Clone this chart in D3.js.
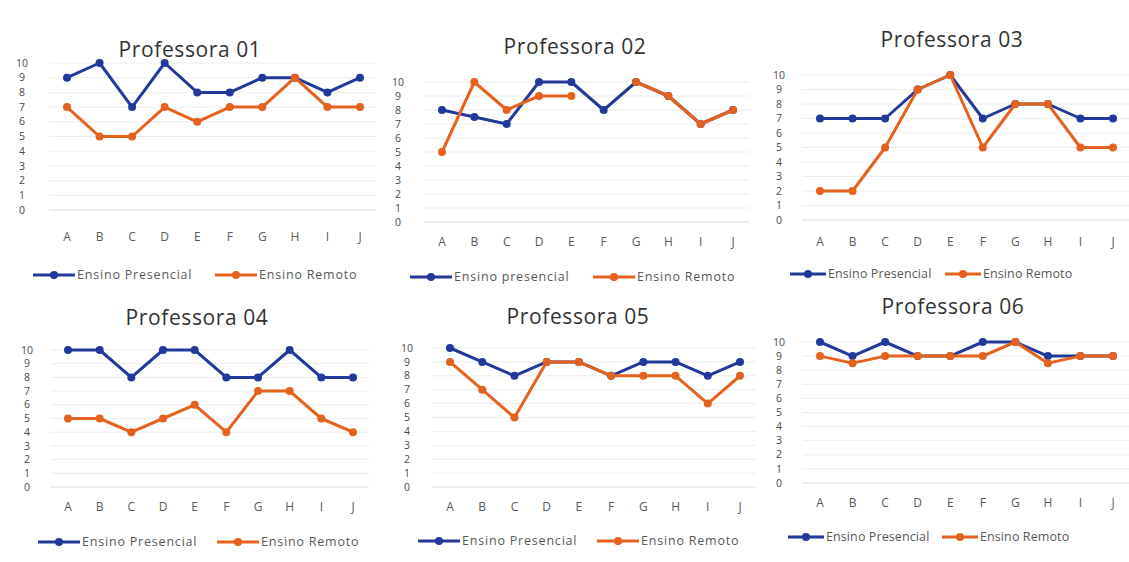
<!DOCTYPE html>
<html>
<head>
<meta charset="utf-8">
<script src="https://cdn.jsdelivr.net/npm/d3@7"></script>
<style>
  html, body { margin: 0; padding: 0; background: #ffffff; }
  svg { display: block; }
</style>
</head>
<body>
<svg id="chart" width="1129" height="562"></svg>
<script>
// ---- data ----
const categories = ["A", "B", "C", "D", "E", "F", "G", "H", "I", "J"];
const yTickLabels = [0, 1, 2, 3, 4, 5, 6, 7, 8, 9, 10];
const titles = ["Professora 01", "Professora 02", "Professora 03", "Professora 04", "Professora 05", "Professora 06"];
const presencialNames = ["Ensino Presencial", "Ensino presencial", "Ensino Presencial", "Ensino Presencial", "Ensino Presencial", "Ensino Presencial"];
const remotoName = "Ensino Remoto";

const presencial01 = [9, 10, 7, 10, 8, 8, 9, 9, 8, 9];
const remoto01     = [7, 5, 5, 7, 6, 7, 7, 9, 7, 7];
const presencial02 = [8, 7.5, 7, 10, 10, 8, 10, 9, 7, 8];
const remoto02     = [5, 10, 8, 9, 9, null, 10, 9, 7, 8];
const presencial03 = [7, 7, 7, 9, 10, 7, 8, 8, 7, 7];
const remoto03     = [2, 2, 5, 9, 10, 5, 8, 8, 5, 5];
const presencial04 = [10, 10, 8, 10, 10, 8, 8, 10, 8, 8];
const remoto04     = [5, 5, 4, 5, 6, 4, 7, 7, 5, 4];
const presencial05 = [10, 9, 8, 9, 9, 8, 9, 9, 8, 9];
const remoto05     = [9, 7, 5, 9, 9, 8, 8, 8, 6, 8];
const presencial06 = [10, 9, 10, 9, 9, 10, 10, 9, 9, 9];
const remoto06     = [9, 8.5, 9, 9, 9, 9, 10, 8.5, 9, 9];

const presencialSeries = [presencial01, presencial02, presencial03, presencial04, presencial05, presencial06];
const remotoSeries = [remoto01, remoto02, remoto03, remoto04, remoto05, remoto06];

// ---- layout of the six small charts ----
const layouts = [
  { titleX: 190, titleY: 57, y0: 210, y10: 63, xA: 67, xJ: 360, labelX: 22, catY: 241, legendX: 33, legendY: 275, legendGap: 182, legendLine: 42, legendSpacing: 0.8 },
  { titleX: 575, titleY: 54, y0: 222, y10: 82, xA: 442, xJ: 733, labelX: 398, catY: 246, legendX: 410, legendY: 277, legendGap: 183, legendLine: 42, legendSpacing: 0.8 },
  { titleX: 952, titleY: 47, y0: 220, y10: 75, xA: 820, xJ: 1113, labelX: 779, catY: 246, legendX: 790, legendY: 274, legendGap: 155, legendLine: 36, legendSpacing: 0.1 },
  { titleX: 197, titleY: 325, y0: 487, y10: 350, xA: 68, xJ: 353, labelX: 27, catY: 511, legendX: 38, legendY: 542, legendGap: 179, legendLine: 42, legendSpacing: 0.8 },
  { titleX: 578, titleY: 324, y0: 487, y10: 348, xA: 450, xJ: 740, labelX: 407, catY: 511, legendX: 418, legendY: 541, legendGap: 179, legendLine: 42, legendSpacing: 0.8 },
  { titleX: 953, titleY: 314, y0: 483, y10: 342, xA: 820, xJ: 1113, labelX: 779, catY: 507, legendX: 788, legendY: 537, legendGap: 154, legendLine: 36, legendSpacing: 0.1 }
];

const blue = "#22399a";
const orange = "#e4621d";
const textGrey = "#595959";
const font = "'Open Sans', 'Noto Sans', sans-serif";

const svg = d3.select("#chart");

layouts.forEach((L, i) => {
  const g = svg.append("g");
  const x = d3.scalePoint().domain(categories).range([L.xA, L.xJ]);
  const y = d3.scaleLinear().domain([0, 10]).range([L.y0, L.y10]);
  const step = x.step();
  const gx0 = L.xA - step * 0.55, gx1 = L.xJ + step * 0.5;

  // horizontal gridlines
  g.selectAll("line.grid").data(yTickLabels).join("line")
    .attr("x1", gx0).attr("x2", gx1)
    .attr("y1", d => y(d)).attr("y2", d => y(d))
    .attr("stroke", d => d === 0 ? "#dcdcdc" : "#ececec").attr("stroke-width", 1);

  // y-axis labels
  g.selectAll("text.ytick").data(yTickLabels).join("text")
    .attr("x", L.labelX).attr("y", d => y(d))
    .attr("dy", "0.35em").attr("text-anchor", "middle")
    .attr("font-family", font).attr("font-size", 10.5)
    .attr("fill", "#4a4a4a").text(d => d);

  // category labels
  g.selectAll("text.xtick").data(categories).join("text")
    .attr("x", d => x(d)).attr("y", L.catY)
    .attr("text-anchor", "middle")
    .attr("font-family", font).attr("font-size", 12)
    .attr("fill", textGrey).text(d => d);

  // title
  g.append("text")
    .attr("x", L.titleX).attr("y", L.titleY)
    .attr("text-anchor", "middle")
    .attr("font-family", font).attr("font-size", 21)
    .attr("letter-spacing", 0.6)
    .attr("fill", "#333333").text(titles[i]);

  const line = d3.line()
    .defined(d => d.v != null)
    .x(d => x(d.c)).y(d => y(d.v));

  const drawSeries = (values, color) => {
    const pts = categories.map((c, k) => ({ c, v: values[k] }));
    g.append("path").datum(pts)
      .attr("d", line).attr("fill", "none")
      .attr("stroke", color).attr("stroke-width", 3)
      .attr("stroke-linejoin", "round");
    g.selectAll(null).data(pts.filter(d => d.v != null)).join("circle")
      .attr("cx", d => x(d.c)).attr("cy", d => y(d.v))
      .attr("r", 4).attr("fill", color);
  };
  drawSeries(presencialSeries[i], blue);
  drawSeries(remotoSeries[i], orange);

  // legend
  const items = [
    { name: presencialNames[i], color: blue, x: L.legendX },
    { name: remotoName, color: orange, x: L.legendX + L.legendGap }
  ];
  items.forEach(it => {
    g.append("line")
      .attr("x1", it.x).attr("x2", it.x + L.legendLine)
      .attr("y1", L.legendY).attr("y2", L.legendY)
      .attr("stroke", it.color).attr("stroke-width", 3);
    g.append("circle")
      .attr("cx", it.x + L.legendLine / 2).attr("cy", L.legendY).attr("r", 4)
      .attr("fill", it.color);
    g.append("text")
      .attr("x", it.x + L.legendLine + 2).attr("y", L.legendY).attr("dy", "0.35em")
      .attr("font-family", font).attr("font-size", 12.5)
      .attr("letter-spacing", L.legendSpacing)
      .attr("fill", textGrey).text(it.name);
  });
});
</script>
</body>
</html>
